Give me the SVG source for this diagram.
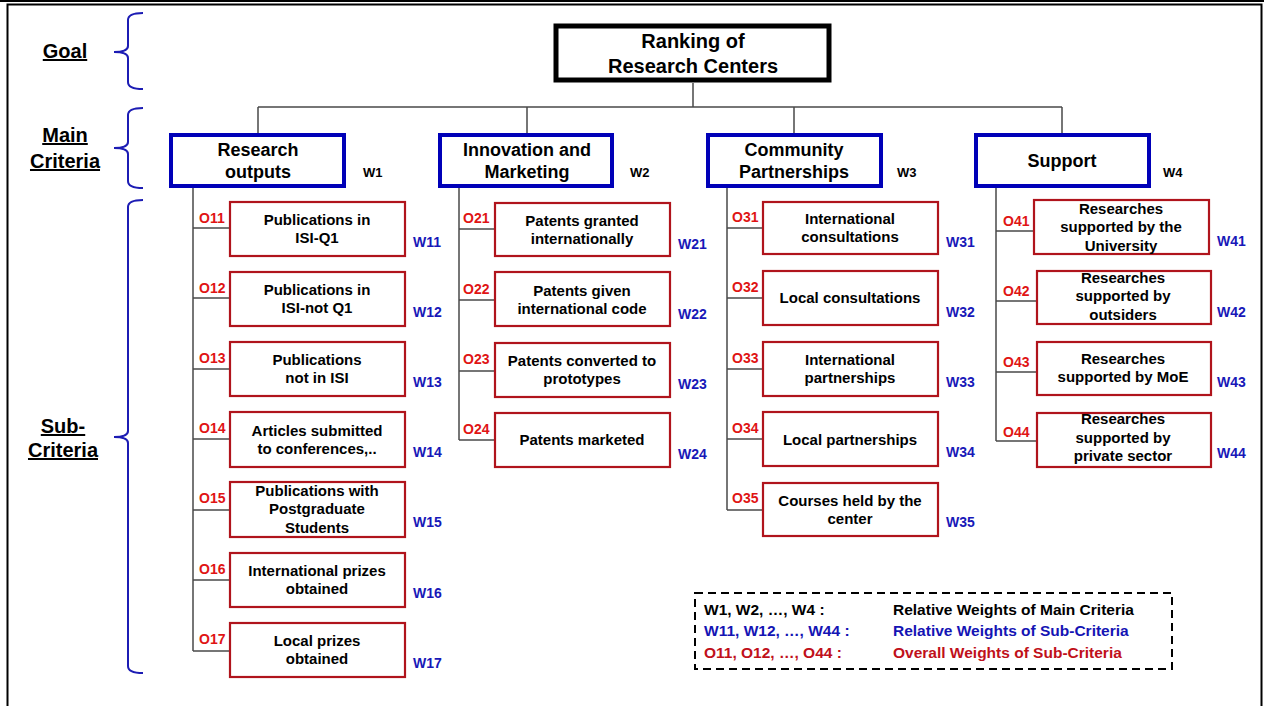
<svg xmlns="http://www.w3.org/2000/svg" width="1264" height="706" viewBox="0 0 1264 706">
<style>
text{font-family:"Liberation Sans",Arial,sans-serif;font-weight:bold}
.lvl{font-size:20px;fill:#000;text-decoration:underline}
.brace{fill:none;stroke:#1c1cb4;stroke-width:2}
.goal{fill:#fff;stroke:#000;stroke-width:5}
.main{fill:#fff;stroke:#0000b8;stroke-width:4}
.sub{fill:#fff;stroke:#b0141c;stroke-width:2.2}
.gt{font-size:20px;text-anchor:middle;fill:#000}
.mt{font-size:18px;text-anchor:middle;fill:#000}
.st{font-size:15px;text-anchor:middle;fill:#000}
.o{font-size:14px;fill:#e01414}
.w{font-size:14px;fill:#1818b8}
.wm{font-size:13px;fill:#000}
.con{fill:none;stroke:#4a4a4a;stroke-width:1.5}
.lg{font-size:15.5px}
</style>
<rect x="0" y="0" width="1264" height="706" fill="#fff"/>
<line x1="0" y1="1" x2="1264" y2="1" stroke="#000" stroke-width="2"/>
<rect x="7.5" y="4.5" width="1254" height="710" fill="none" stroke="#000" stroke-width="2"/>

<g id="levels">
<text class="lvl" x="65" y="58" text-anchor="middle">Goal</text>
<text class="lvl" x="65" y="142" text-anchor="middle">Main</text>
<text class="lvl" x="65" y="168" text-anchor="middle">Criteria</text>
<text class="lvl" x="63" y="433" text-anchor="middle">Sub-</text>
<text class="lvl" x="63" y="457" text-anchor="middle">Criteria</text>
<path class="brace" d="M143,13 Q128,13 128,20 L128,46 Q128,52 114,52 Q128,52 128,58 L128,82 Q128,89 143,89"/>
<path class="brace" d="M143,108 Q128,108 128,115 L128,142 Q128,148 114,148 Q128,148 128,154 L128,181 Q128,188 143,188"/>
<path class="brace" d="M143,200 Q128,200 128,207 L128,431 Q128,437 114,437 Q128,437 128,443 L128,666 Q128,673 143,673"/>
</g>

<g id="connectors">
<path class="con" d="M693,83 V107 M258,107 H1062 M258,107 V133 M527,107 V133 M794,107 V133 M1062,107 V133"/>
<path class="con" d="M193,188 V651 M193,228 H230 M193,298 H230 M193,369 H230 M193,439 H230 M193,510 H230 M193,580 H230 M193,651 H230"/>
<path class="con" d="M459,188 V440 M459,229 H495 M459,300 H495 M459,371 H495 M459,440 H495"/>
<path class="con" d="M727,188 V510 M727,228 H763 M727,298 H763 M727,369 H763 M727,439 H763 M727,510 H763"/>
<path class="con" d="M996,188 V441 M996,231 H1035 M996,301 H1037 M996,372 H1037 M996,441 H1037"/>
</g>

<g id="goal">
<rect class="goal" x="556" y="26" width="273" height="54"/>
<text class="gt" x="693" y="48">Ranking of</text>
<text class="gt" x="693" y="73">Research Centers</text>
</g>

<g id="m1"><rect class="main" x="171" y="135" width="173" height="51"/>
<text class="mt" x="258" y="156">Research</text><text class="mt" x="258" y="178">outputs</text>
<text class="wm" x="363" y="177">W1</text></g>
<g id="m2"><rect class="main" x="440" y="135" width="172" height="51"/>
<text class="mt" x="527" y="156">Innovation and</text><text class="mt" x="527" y="178">Marketing</text>
<text class="wm" x="630" y="177">W2</text></g>
<g id="m3"><rect class="main" x="708" y="135" width="173" height="51"/>
<text class="mt" x="794" y="156">Community</text><text class="mt" x="794" y="178">Partnerships</text>
<text class="wm" x="897" y="177">W3</text></g>
<g id="m4"><rect class="main" x="976" y="135" width="173" height="51"/>
<text class="mt" x="1062" y="167">Support</text>
<text class="wm" x="1163" y="177">W4</text></g>

<!-- column 1 -->
<g id="o11"><rect class="sub" x="230" y="202" width="175" height="54"/><text class="o" x="199" y="223">O11</text>
<text class="st" x="317" y="225">Publications in</text><text class="st" x="317" y="243">ISI-Q1</text><text class="w" x="413" y="247">W11</text></g>
<g id="o12"><rect class="sub" x="230" y="272" width="175" height="54"/><text class="o" x="199" y="293">O12</text>
<text class="st" x="317" y="295">Publications in</text><text class="st" x="317" y="313">ISI-not Q1</text><text class="w" x="413" y="317">W12</text></g>
<g id="o13"><rect class="sub" x="230" y="342" width="175" height="54"/><text class="o" x="199" y="363">O13</text>
<text class="st" x="317" y="365">Publications</text><text class="st" x="317" y="383">not in ISI</text><text class="w" x="413" y="387">W13</text></g>
<g id="o14"><rect class="sub" x="230" y="412" width="175" height="55"/><text class="o" x="199" y="433">O14</text>
<text class="st" x="317" y="436">Articles submitted</text><text class="st" x="317" y="454">to conferences,..</text><text class="w" x="413" y="457">W14</text></g>
<g id="o15"><rect class="sub" x="230" y="482" width="175" height="55"/><text class="o" x="199" y="503">O15</text>
<text class="st" x="317" y="496">Publications with</text><text class="st" x="317" y="514">Postgraduate</text><text class="st" x="317" y="533">Students</text><text class="w" x="413" y="527">W15</text></g>
<g id="o16"><rect class="sub" x="230" y="553" width="175" height="54"/><text class="o" x="199" y="574">O16</text>
<text class="st" x="317" y="576">International prizes</text><text class="st" x="317" y="594">obtained</text><text class="w" x="413" y="598">W16</text></g>
<g id="o17"><rect class="sub" x="230" y="623" width="175" height="54"/><text class="o" x="199" y="644">O17</text>
<text class="st" x="317" y="646">Local prizes</text><text class="st" x="317" y="664">obtained</text><text class="w" x="413" y="668">W17</text></g>

<!-- column 2 -->
<g id="o21"><rect class="sub" x="495" y="203" width="175" height="53"/><text class="o" x="463" y="223">O21</text>
<text class="st" x="582" y="226">Patents granted</text><text class="st" x="582" y="244">internationally</text><text class="w" x="678" y="249">W21</text></g>
<g id="o22"><rect class="sub" x="495" y="272" width="175" height="54"/><text class="o" x="463" y="294">O22</text>
<text class="st" x="582" y="296">Patents given</text><text class="st" x="582" y="314">international code</text><text class="w" x="678" y="319">W22</text></g>
<g id="o23"><rect class="sub" x="495" y="343" width="175" height="54"/><text class="o" x="463" y="364">O23</text>
<text class="st" x="582" y="366">Patents converted to</text><text class="st" x="582" y="384">prototypes</text><text class="w" x="678" y="389">W23</text></g>
<g id="o24"><rect class="sub" x="495" y="413" width="175" height="54"/><text class="o" x="463" y="434">O24</text>
<text class="st" x="582" y="445">Patents marketed</text><text class="w" x="678" y="459">W24</text></g>

<!-- column 3 -->
<g id="o31"><rect class="sub" x="763" y="202" width="175" height="52"/><text class="o" x="732" y="222">O31</text>
<text class="st" x="850" y="224">International</text><text class="st" x="850" y="242">consultations</text><text class="w" x="946" y="247">W31</text></g>
<g id="o32"><rect class="sub" x="763" y="271" width="175" height="54"/><text class="o" x="732" y="292">O32</text>
<text class="st" x="850" y="303">Local consultations</text><text class="w" x="946" y="317">W32</text></g>
<g id="o33"><rect class="sub" x="763" y="342" width="175" height="54"/><text class="o" x="732" y="363">O33</text>
<text class="st" x="850" y="365">International</text><text class="st" x="850" y="383">partnerships</text><text class="w" x="946" y="387">W33</text></g>
<g id="o34"><rect class="sub" x="763" y="412" width="175" height="54"/><text class="o" x="732" y="433">O34</text>
<text class="st" x="850" y="445">Local partnerships</text><text class="w" x="946" y="457">W34</text></g>
<g id="o35"><rect class="sub" x="763" y="483" width="175" height="53"/><text class="o" x="732" y="503">O35</text>
<text class="st" x="850" y="506">Courses held by the</text><text class="st" x="850" y="524">center</text><text class="w" x="946" y="527">W35</text></g>

<!-- column 4 -->
<g id="o41"><rect class="sub" x="1034" y="200" width="175" height="54"/><text class="o" x="1003" y="226">O41</text>
<text class="st" x="1121" y="214">Researches</text><text class="st" x="1121" y="232">supported by the</text><text class="st" x="1121" y="251">University</text><text class="w" x="1217" y="246">W41</text></g>
<g id="o42"><rect class="sub" x="1037" y="271" width="174" height="53"/><text class="o" x="1003" y="296">O42</text>
<text class="st" x="1123" y="283">Researches</text><text class="st" x="1123" y="301">supported by</text><text class="st" x="1123" y="320">outsiders</text><text class="w" x="1217" y="317">W42</text></g>
<g id="o43"><rect class="sub" x="1037" y="342" width="174" height="53"/><text class="o" x="1003" y="367">O43</text>
<text class="st" x="1123" y="364">Researches</text><text class="st" x="1123" y="382">supported by MoE</text><text class="w" x="1217" y="387">W43</text></g>
<g id="o44"><rect class="sub" x="1037" y="413" width="174" height="54"/><text class="o" x="1003" y="437">O44</text>
<text class="st" x="1123" y="424">Researches</text><text class="st" x="1123" y="443">supported by</text><text class="st" x="1123" y="461">private sector</text><text class="w" x="1217" y="458">W44</text></g>

<g id="legend">
<rect x="695" y="593" width="477" height="76" fill="#fff" stroke="#000" stroke-width="2" stroke-dasharray="8,5"/>
<text class="lg" x="704" y="615" fill="#000">W1, W2, …, W4 :</text>
<text class="lg" x="893" y="615" fill="#000">Relative Weights of Main Criteria</text>
<text class="lg" x="704" y="636" fill="#1414b4">W11, W12, …, W44 :</text>
<text class="lg" x="893" y="636" fill="#1414b4">Relative Weights of Sub-Criteria</text>
<text class="lg" x="704" y="658" fill="#c0101a">O11, O12, …, O44 :</text>
<text class="lg" x="893" y="658" fill="#c0101a">Overall Weights of Sub-Criteria</text>
</g>
</svg>
